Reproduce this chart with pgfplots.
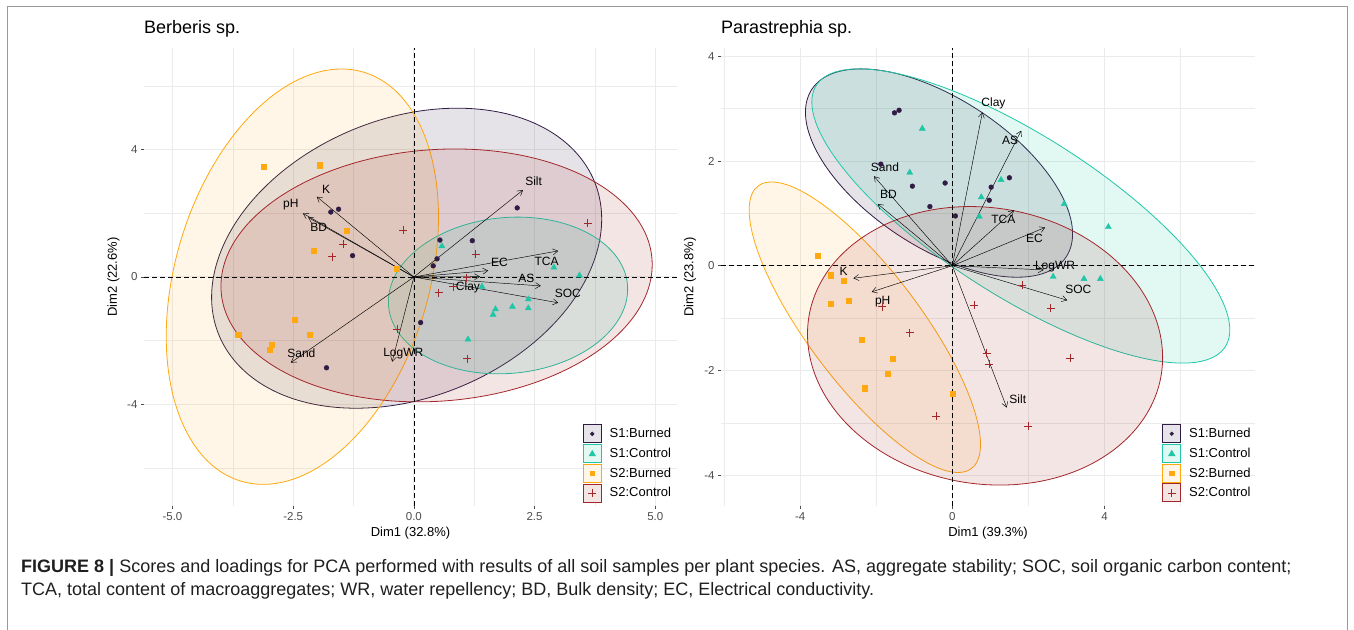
\documentclass[border=0pt]{standalone}
\usepackage{fontspec}
\setmainfont{Liberation Sans}
\usepackage{pgfplots}
\pgfplotsset{compat=1.18}
\usetikzlibrary{arrows.meta}

\definecolor{cBurA}{HTML}{2F1B43}
\definecolor{cConA}{HTML}{1FC7A6}
\definecolor{cBurB}{HTML}{FFA810}
\definecolor{cConB}{HTML}{A3262A}
\definecolor{gridc}{HTML}{EBEBEB}
\definecolor{tickc}{HTML}{4D4D4D}

% ellipse: color, cx, cy, horizontal half-chord w, top vector (tx,ty), fill opacity
\newcommand{\pcaellipse}[7]{%
  \pgfplotsextra{%
    \begin{pgfscope}%
    \pgfpathellipse{\pgfplotspointaxisxy{#2}{#3}}{\pgfplotspointaxisdirectionxy{#4}{0}}{\pgfplotspointaxisdirectionxy{#5}{#6}}%
    \pgfsetlinewidth{0.8pt}\pgfsetstrokecolor{#1}\pgfsetfillcolor{#1}\pgfsetfillopacity{#7}%
    \pgfusepath{fill,stroke}%
    \end{pgfscope}}}
\newcommand{\parrow}[2]{%
  \addplot[black, line width=0.45pt, -{Straight Barb[length=5pt,width=6pt]}, forget plot] coordinates {(0,0) (#1,#2)};}
\newcommand{\plab}[3]{\node[font=\fontsize{12}{12}\selectfont, inner sep=0pt] at (axis cs:#1,#2) {#3};}

\pgfplotsset{
  pca/.style={
    scale only axis, width=533pt, height=458pt, anchor=south west,
    axis line style={draw=none},
    tick pos=left, tick align=outside, major tick length=3pt, minor tick length=0pt,
    tick style={tickc, line width=0.6pt},
    grid=both,
    major grid style={gridc, line width=1pt},
    minor grid style={gridc, line width=0.5pt},
    ticklabel style={font=\fontsize{11.5}{12}\selectfont, text=tickc},
    every axis x label/.style={at={(axis description cs:0.5,-0.059)}, anchor=center, font=\fontsize{13}{14}\selectfont},
    every axis y label/.style={at={(axis description cs:-0.057,0.5)}, rotate=90, anchor=center, font=\fontsize{13}{14}\selectfont},
    title style={at={(0,1)}, anchor=south west, yshift=5pt, inner sep=0pt, font=\fontsize{18}{18}\selectfont},
    legend cell align=left,
    legend style={draw=none, fill=none, inner sep=0pt, outer sep=0pt, row sep=0.9pt,
      font=\fontsize{13}{14}\selectfont, anchor=north west,
      /tikz/every odd column/.append style={column sep=6pt}},
  },
}

\begin{document}
\begin{tikzpicture}[x=1pt,y=1pt]
\path[use as bounding box] (0,0) rectangle (1354,629);
\draw[black!40, line width=0.9pt] (7.5,-5) -- (7.5,622.5) -- (1347.5,622.5) -- (1347.5,-5);

% ---------------- Left panel ----------------
\begin{axis}[pca, at={(144pt,123pt)},
  xmin=-5.59, xmax=5.45, ymin=-7.19, ymax=7.19,
  xtick={-5,-2.5,0,2.5,5}, xticklabels={-5.0,-2.5,0.0,2.5,5.0},
  minor xtick={-3.75,-1.25,1.25,3.75},
  ytick={-4,0,4}, yticklabels={-4,0,4}, minor ytick={-6,-2,2,6},
  xlabel={Dim1 (32.8\%)}, ylabel={Dim2 (22.6\%)}, title={Berberis sp.},
  legend style={at={(axis cs:3.50,-4.63)}}]
\pcaellipse{cBurA}{-0.15}{0.59}{3.9}{1.05}{4.71}{0.12}
\pcaellipse{cConA}{1.95}{-0.58}{2.47}{0.2}{2.46}{0.13}
\pcaellipse{cBurB}{-2.31}{0.01}{2.7}{0.81}{6.52}{0.10}
\pcaellipse{cConB}{0.47}{0.05}{4.45}{0.38}{3.97}{0.12}
\addplot[black, line width=0.75pt, dash pattern=on 4.5pt off 3.5pt, forget plot] coordinates {(-5.59,0) (5.45,0)};
\addplot[black, line width=0.75pt, dash pattern=on 4.5pt off 3.5pt, forget plot] coordinates {(0,-7.19) (0,7.19)};
\addplot[only marks, mark=*, mark size=2.4pt, color=cBurA, forget plot] coordinates {
(-1.72,2.04) (-1.56,2.13) (-1.27,0.67) (0.54,1.16) (0.48,0.57) (0.40,0.35) (0.14,-1.43) (-1.81,-2.85) (2.14,2.17) (1.21,1.14)};
\addplot[only marks, mark=triangle*, mark size=3.5pt, color=cConA, forget plot] coordinates {
(0.58,0.97) (2.90,0.30) (3.43,0.05) (1.41,-0.30) (2.37,-0.70) (2.37,-0.98) (2.04,-0.93) (1.69,-1.01) (1.64,-1.18) (1.12,-1.96)};
\addplot[only marks, mark=square*, mark size=2.6pt, color=cBurB, forget plot] coordinates {
(-3.11,3.46) (-1.95,3.51) (-1.39,1.45) (-2.08,0.82) (-0.36,0.27) (-2.47,-1.35) (-2.15,-1.82) (-3.64,-1.80) (-2.95,-2.13) (-2.99,-2.28)};
\addplot[only marks, mark=+, mark size=4pt, line width=0.6pt, color=cConB, forget plot] coordinates {
(-0.22,1.48) (-1.46,1.03) (-1.69,0.64) (0.81,-0.30) (0.51,-0.49) (-0.35,-1.63) (1.28,0.71) (1.09,-0.02) (3.60,1.69) (1.11,-2.56)};
\parrow{-2.01}{2.52}\parrow{-2.30}{2.00}\parrow{-2.19}{1.87}\parrow{-2.55}{-2.69}
\parrow{-0.45}{-2.66}\parrow{2.26}{2.73}\parrow{2.99}{0.82}\parrow{1.54}{0.20}
\parrow{1.37}{0.01}\parrow{2.63}{-0.28}\parrow{2.99}{-0.81}
\plab{-1.82}{2.76}{K}\plab{-2.55}{2.26}{pH}\plab{-1.97}{1.56}{BD}\plab{-2.33}{-2.38}{Sand}
\plab{-0.22}{-2.40}{LogWR}\plab{2.48}{3.02}{Silt}\plab{2.75}{0.48}{TCA}\plab{1.77}{0.46}{EC}
\plab{1.12}{-0.32}{Clay}\plab{2.33}{-0.04}{AS}\plab{3.19}{-0.51}{SOC}
\addlegendimage{legend image code/.code={\draw[cBurA, line width=0.8pt, fill=cBurA!12] (0pt,-9pt) rectangle (18pt,9pt); \fill[cBurA] (9pt,0pt) circle (1.9pt);}}
\addlegendentry{S1:Burned}
\addlegendimage{legend image code/.code={\draw[cConA, line width=0.8pt, fill=cConA!13] (0pt,-9pt) rectangle (18pt,9pt); \fill[cConA] (9pt,3.2pt) -- (12.3pt,-2.4pt) -- (5.7pt,-2.4pt) -- cycle;}}
\addlegendentry{S1:Control}
\addlegendimage{legend image code/.code={\draw[cBurB, line width=0.8pt, fill=cBurB!10] (0pt,-9pt) rectangle (18pt,9pt); \fill[cBurB] (6.8pt,-2.2pt) rectangle (11.2pt,2.2pt);}}
\addlegendentry{S2:Burned}
\addlegendimage{legend image code/.code={\draw[cConB, line width=0.8pt, fill=cConB!12] (0pt,-9pt) rectangle (18pt,9pt); \draw[cConB, line width=0.6pt] (5pt,0pt) -- (13pt,0pt) (9pt,-4pt) -- (9pt,4pt);}}
\addlegendentry{S2:Control}
\end{axis}

% ---------------- Right panel ----------------
\begin{axis}[pca, at={(721pt,123pt)}, width=534pt,
  xmin=-6.08, xmax=7.955, ymin=-4.59, ymax=4.159,
  xtick={-4,0,4}, xticklabels={-4,0,4}, minor xtick={-6,-2,2,6},
  ytick={-4,-2,0,2,4}, yticklabels={-4,-2,0,2,4}, minor ytick={-3,-1,1,3},
  xlabel={Dim1 (39.3\%)}, ylabel={Dim2 (23.8\%)}, title={Parastrephia sp.},
  every axis y label/.style={at={(axis description cs:-0.058,0.5)}, rotate=90, anchor=center, font=\fontsize{13}{14}\selectfont},
  legend style={at={(axis cs:5.52,-3.03)}}]
\pcaellipse{cBurA}{-0.35}{1.77}{2.85}{-2.05}{1.99}{0.12}
\pcaellipse{cConA}{1.8}{0.95}{3.48}{-4.25}{2.81}{0.13}
\pcaellipse{cBurB}{-2.3}{-1.175}{1.8}{-2.45}{2.775}{0.10}
\pcaellipse{cConB}{0.86}{-1.53}{4.65}{-0.39}{2.66}{0.12}
\addplot[black, line width=0.75pt, dash pattern=on 4.5pt off 3.5pt, forget plot] coordinates {(-6.08,0) (7.955,0)};
\addplot[black, line width=0.75pt, dash pattern=on 4.5pt off 3.5pt, forget plot] coordinates {(0,-4.59) (0,4.159)};
\addplot[only marks, mark=*, mark size=2.4pt, color=cBurA, forget plot] coordinates {
(-1.52,2.92) (-1.40,2.97) (-1.88,1.94) (-1.05,1.52) (-0.19,1.58) (-0.59,1.13) (0.08,0.95) (1.02,1.50) (0.97,1.25) (1.50,1.68)};
\addplot[only marks, mark=triangle*, mark size=3.5pt, color=cConA, forget plot] coordinates {
(-0.79,2.62) (-1.12,1.78) (1.28,1.64) (0.76,1.31) (0.71,0.94) (2.94,1.18) (4.10,0.74) (2.65,-0.21) (3.46,-0.25) (3.89,-0.25)};
\addplot[only marks, mark=square*, mark size=2.6pt, color=cBurB, forget plot] coordinates {
(-3.53,0.19) (-3.20,-0.18) (-2.85,-0.29) (-3.20,-0.72) (-2.73,-0.67) (-2.39,-1.41) (-1.56,-1.78) (-1.70,-2.06) (-2.31,-2.34) (0.0,-2.45)};
\addplot[only marks, mark=+, mark size=4pt, line width=0.6pt, color=cConB, forget plot] coordinates {
(-1.84,-0.78) (-1.12,-1.28) (0.57,-0.75) (0.90,-1.67) (0.97,-1.88) (-0.43,-2.87) (1.84,-0.37) (2.58,-0.81) (3.10,-1.76) (1.99,-3.07)};
\parrow{0.79}{2.93}\parrow{1.81}{2.58}\parrow{1.62}{1.06}\parrow{2.44}{0.73}
\parrow{2.40}{-0.08}\parrow{3.02}{-0.66}\parrow{1.43}{-2.71}\parrow{-2.06}{1.71}
\parrow{-1.96}{1.18}\parrow{-2.60}{-0.24}\parrow{-2.12}{-0.50}
\plab{1.08}{3.10}{Clay}\plab{1.52}{2.39}{AS}\plab{1.34}{0.89}{TCA}\plab{2.16}{0.52}{EC}
\plab{2.70}{-0.02}{LogWR}\plab{3.31}{-0.46}{SOC}\plab{1.72}{-2.55}{Silt}\plab{-1.77}{1.89}{Sand}
\plab{-1.68}{1.36}{BD}\plab{-2.86}{-0.10}{K}\plab{-1.83}{-0.69}{pH}
\addlegendimage{legend image code/.code={\draw[cBurA, line width=0.8pt, fill=cBurA!12] (0pt,-9pt) rectangle (18pt,9pt); \fill[cBurA] (9pt,0pt) circle (1.9pt);}}
\addlegendentry{S1:Burned}
\addlegendimage{legend image code/.code={\draw[cConA, line width=0.8pt, fill=cConA!13] (0pt,-9pt) rectangle (18pt,9pt); \fill[cConA] (9pt,3.2pt) -- (12.3pt,-2.4pt) -- (5.7pt,-2.4pt) -- cycle;}}
\addlegendentry{S1:Control}
\addlegendimage{legend image code/.code={\draw[cBurB, line width=0.8pt, fill=cBurB!10] (0pt,-9pt) rectangle (18pt,9pt); \fill[cBurB] (6.8pt,-2.2pt) rectangle (11.2pt,2.2pt);}}
\addlegendentry{S2:Burned}
\addlegendimage{legend image code/.code={\draw[cConB, line width=0.8pt, fill=cConB!12] (0pt,-9pt) rectangle (18pt,9pt); \draw[cConB, line width=0.6pt] (5pt,0pt) -- (13pt,0pt) (9pt,-4pt) -- (9pt,4pt);}}
\addlegendentry{S2:Control}
\end{axis}

% ---------------- Caption ----------------
\node[anchor=north west, align=left, inner sep=0pt, font=\fontsize{18}{23}\selectfont, text=black!88]
  at (21,629-559) {\textbf{FIGURE 8 |} Scores and loadings for PCA performed with results of all soil samples per plant species. AS, aggregate stability; SOC, soil organic carbon content;\\
  TCA, total content of macroaggregates; WR, water repellency; BD, Bulk density; EC, Electrical conductivity.};
\end{tikzpicture}
\end{document}
